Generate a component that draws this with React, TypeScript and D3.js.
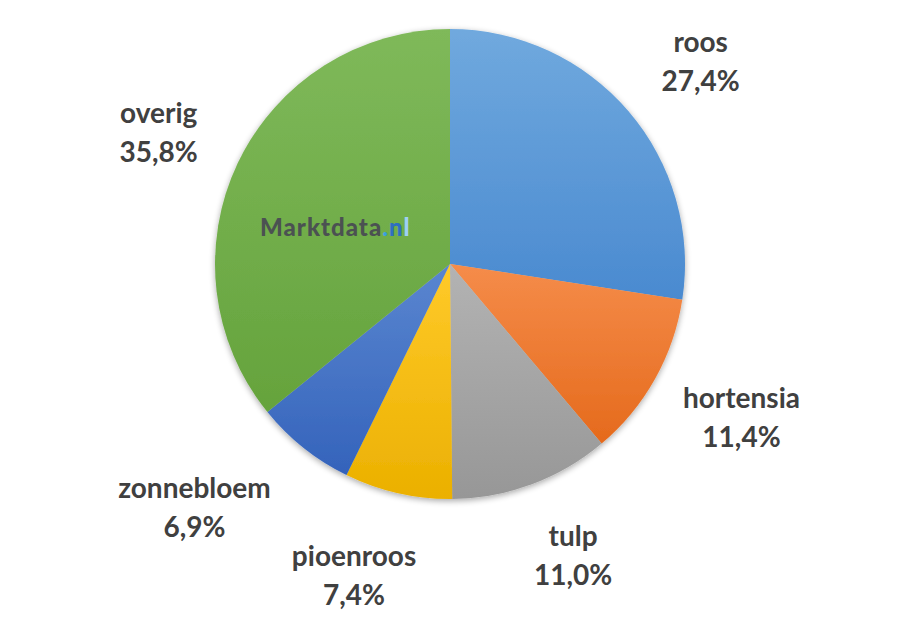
import React from "react";
import * as d3 from "d3";

const categories = ["roos", "hortensia", "tulp", "pioenroos", "zonnebloem", "overig"];
const values = [27.4, 11.4, 11.0, 7.4, 6.9, 35.8];
const valueLabels = ["27,4%", "11,4%", "11,0%", "7,4%", "6,9%", "35,8%"];
const colorsTop = ["#70a9de", "#f58c4a", "#b3b3b3", "#ffca2a", "#5a86d0", "#7fb95a"];
const colorsBottom = ["#4a8ad0", "#e56a1c", "#979797", "#ebb000", "#3463bb", "#65a33c"];

// layout: small label nudges (Excel "best fit" placement), relative to the label-arc centroid
const labelNudgeX = [4, 8, 10, -24, -53, 2];
const labelNudgeY = [19, 5, -3, 5, -1, 18];

const W = 915;
const H = 628;
const cx = 450;
const cy = 264;
const R = 235;
const labelR = 325;
const lineGap = 39;

export default function App() {
  const pie = d3
    .pie<number>()
    .sort(null)
    .value((d) => d);
  const arcs = pie(values);
  const arc = d3.arc<d3.PieArcDatum<number>>().innerRadius(0).outerRadius(R);
  const labelArc = d3
    .arc<d3.PieArcDatum<number>>()
    .innerRadius(labelR)
    .outerRadius(labelR);
  const font = "Lato, 'Open Sans', sans-serif";
  return (
    <svg width={W} height={H} style={{ position: "absolute", left: 0, top: 0, background: "#fff" }}>
      <defs>
        {categories.map((c, i) => (
          <linearGradient key={c} id={`g${i}`} x1="0" y1="0" x2="0" y2="1">
            <stop offset="0%" stopColor={colorsTop[i]} />
            <stop offset="100%" stopColor={colorsBottom[i]} />
          </linearGradient>
        ))}
        <filter id="shadow" x="-20%" y="-20%" width="140%" height="140%">
          <feGaussianBlur in="SourceAlpha" stdDeviation="3" />
          <feOffset dx="0" dy="2" result="b" />
          <feComponentTransfer>
            <feFuncA type="linear" slope="0.35" />
          </feComponentTransfer>
          <feMerge>
            <feMergeNode />
            <feMergeNode in="SourceGraphic" />
          </feMerge>
        </filter>
      </defs>
      <g transform={`translate(${cx},${cy})`}>
        <g filter="url(#shadow)">
          {arcs.map((a, i) => (
            <path key={categories[i]} d={arc(a) || ""} fill={`url(#g${i})`} />
          ))}
        </g>
        {arcs.map((a, i) => {
          const [x0, y0] = labelArc.centroid(a);
          const x = x0 + labelNudgeX[i];
          const y = y0 + labelNudgeY[i];
          return (
            <text
              key={categories[i]}
              textAnchor="middle"
              fontFamily={font}
              fontWeight="bold"
              fontSize={28}
              fill="#404040"
            >
              <tspan x={x} y={y - lineGap / 2}>{categories[i]}</tspan>
              <tspan x={x} y={y + lineGap / 2}>{valueLabels[i]}</tspan>
            </text>
          );
        })}
      </g>
      <text x={260} y={236} fontFamily={font} fontWeight="900" fontSize={24} letterSpacing={1} fill="#4b5152">
        Marktdata
        <tspan fill="#3aa0e0">.</tspan>
        <tspan fill="#2f6fc0">n</tspan>
        <tspan fill="#9fd0f5">l</tspan>
      </text>
    </svg>
  );
}
